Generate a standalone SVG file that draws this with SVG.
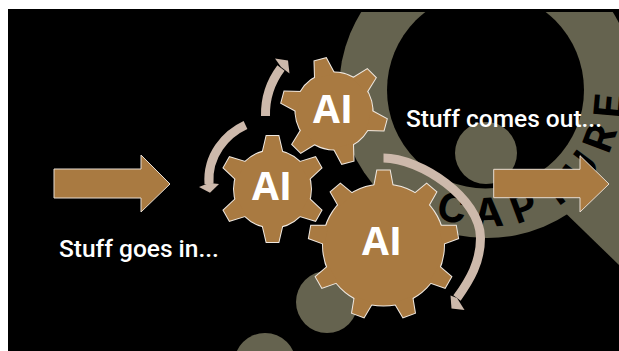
<svg xmlns="http://www.w3.org/2000/svg" width="619" height="351" viewBox="0 0 619 351">
<style>
.olive{fill:#65634F}
.edge{fill:#EFE8E0;stroke:#EFE8E0;stroke-width:2;stroke-linejoin:miter}
.face{fill:#A97A41;stroke:none}
.blockarrow{fill:#A97A41;stroke:#E6DCD2;stroke-width:1}
.band{fill:none;stroke:#CDB9AB;stroke-width:9}
.head{fill:#CDB9AB}
.label{font-family:Roboto,"Liberation Sans",Arial,sans-serif;fill:#fff;font-size:24.5px;font-weight:500}
.ai{font-family:"Open Sans","Liberation Sans",Arial,sans-serif;fill:#fff;font-size:39px;font-weight:700;text-anchor:middle}
.logo{font-family:"Inter","Liberation Sans",sans-serif;fill:#000;font-size:40px;font-weight:700;letter-spacing:12px;text-anchor:middle}
</style>
<defs>
<clipPath id="slide"><rect x="8" y="12" width="611" height="339"/></clipPath>
<path id="toothL" d="M-9.4 -58L-6.3 -74.6L6.3 -74.6L9.4 -58Z"/>
<path id="toothS" d="M-10 -36L-6 -53L6 -53L10 -36Z"/>
<g id="large">
<circle r="60.5"/>
<use href="#toothL"/><use href="#toothL" transform="rotate(40)"/><use href="#toothL" transform="rotate(80)"/><use href="#toothL" transform="rotate(120)"/><use href="#toothL" transform="rotate(160)"/><use href="#toothL" transform="rotate(200)"/><use href="#toothL" transform="rotate(240)"/><use href="#toothL" transform="rotate(280)"/><use href="#toothL" transform="rotate(320)"/>
</g>
<g id="small">
<circle r="38.5"/>
<use href="#toothS"/><use href="#toothS" transform="rotate(60)"/><use href="#toothS" transform="rotate(120)"/><use href="#toothS" transform="rotate(180)"/><use href="#toothS" transform="rotate(240)"/><use href="#toothS" transform="rotate(300)"/>
</g>
<path id="logoArc" d="M367.5 159A138 138 0 0 0 606.5 21"/>
</defs>
<rect width="619" height="351" fill="#fff"/>
<rect x="8" y="9" width="611" height="342" fill="#000"/>
<g id="background" clip-path="url(#slide)">
<circle class="olive" cx="487" cy="90" r="148"/>
<circle cx="485.5" cy="90" r="98.5" fill="#000"/>
<circle class="olive" cx="486" cy="153" r="31"/>
<polygon class="olive" points="550,198 619,265 619,140 590,140"/>
<circle class="olive" cx="327" cy="302" r="31"/>
<circle class="olive" cx="265" cy="364" r="31"/>
<text class="logo"><textPath href="#logoArc" startOffset="53%">CAPTURE</textPath></text>
</g>
<g id="gear-large" transform="translate(383.5 245)">
<use href="#large" class="edge"/><use href="#large" class="face"/>
</g>
<g id="gear-left" transform="translate(272.5 189)">
<use href="#small" class="edge"/><use href="#small" class="face"/>
</g>
<g id="gear-top" transform="translate(334 111) rotate(-15)">
<use href="#small" class="edge"/><use href="#small" class="face"/>
</g>
<text class="ai" x="382" y="255">AI</text>
<text class="ai" x="272" y="200">AI</text>
<text class="ai" x="333" y="122.7">AI</text>
<g id="connectors">
<path class="band" d="M383.5 158C420 158 480.5 198 480.5 238C480.5 262 470 280 457 298"/>
<polygon class="head" points="451.5,308.5 450.5,295.5 457,298 464.5,310"/>
<path class="band" d="M245.5 125C226 134 207 155 209 184"/>
<polygon class="head" points="199,187 209,183 219,184 210,192.7"/>
<path class="band" d="M265.5 116C265 95 272 80 281 68"/>
<polygon class="head" points="275,58.5 288,60.5 289.5,73.5 281,67"/>
</g>
<g id="arrow-in"><polygon class="blockarrow" points="54,169 141,169 141,155 170,184 141,212 141,198 54,198"/></g>
<g id="arrow-out"><polygon class="blockarrow" points="493.7,169.3 580,169.3 580,155.7 609,184 580,212 580,197.7 493.7,197.7"/></g>
<text class="label" x="59" y="256.7">Stuff goes in...</text>
<text class="label" x="406" y="127">Stuff comes out...</text>
</svg>
